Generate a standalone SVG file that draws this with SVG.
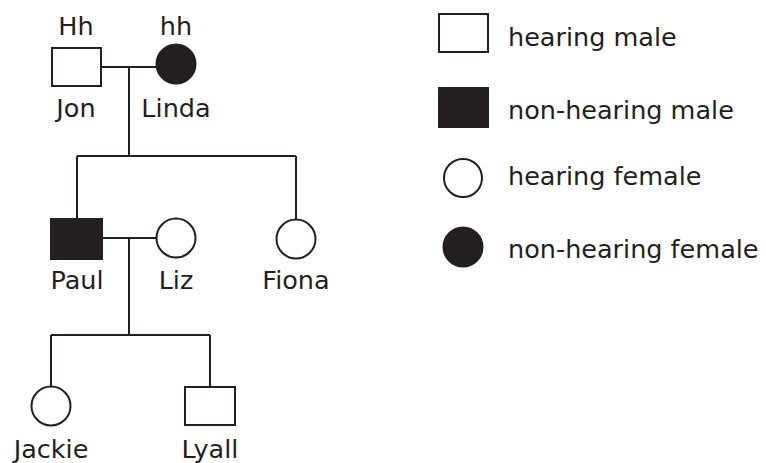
<svg xmlns="http://www.w3.org/2000/svg" width="766" height="463" viewBox="0 0 766 463">
<style>
.l{stroke:#231f20;stroke-width:2;fill:none}
.o{stroke:#231f20;stroke-width:2;fill:#fff}
.f{stroke:#231f20;stroke-width:2;fill:#231f20}
text{font-family:"DejaVu Sans",sans-serif;font-size:25.5px;fill:#231f20}
.c{text-anchor:middle}
</style>
<rect width="766" height="463" fill="#fff"/>
<g id="connectors">
<path class="l" d="M101 67H156M129 67V156M77 156H296M77 156V219M296 156V219M102 238H156M129 238V335M51 335H210M51 335V386M210 335V387"/>
</g>
<g id="jon"><rect class="o" x="52" y="48" width="49" height="38"/><text class="c" x="76" y="35">Hh</text><text class="c" x="76" y="117">Jon</text></g>
<g id="linda"><circle class="f" cx="176" cy="64" r="19.5"/><text class="c" x="176" y="35">hh</text><text class="c" x="176" y="117">Linda</text></g>
<g id="paul"><rect class="f" x="51" y="219" width="51" height="40"/><text class="c" x="77" y="289">Paul</text></g>
<g id="liz"><circle class="o" cx="176" cy="238" r="19.5"/><text class="c" x="176" y="289">Liz</text></g>
<g id="fiona"><circle class="o" cx="296" cy="239" r="19.5"/><text class="c" x="296" y="289">Fiona</text></g>
<g id="jackie"><circle class="o" cx="51" cy="406" r="19.5"/><text class="c" x="51" y="458">Jackie</text></g>
<g id="lyall"><rect class="o" x="185" y="387" width="50" height="38"/><text class="c" x="210" y="458">Lyall</text></g>
<g id="legend">
<rect class="o" x="439" y="14" width="49" height="38"/><text x="508" y="46">hearing male</text>
<rect class="f" x="439" y="88" width="49" height="39"/><text x="508" y="119">non-hearing male</text>
<circle class="o" cx="463" cy="178" r="19"/><text x="508" y="185">hearing female</text>
<circle class="f" cx="463" cy="247" r="19.5"/><text x="508" y="258">non-hearing female</text>
</g>
</svg>
